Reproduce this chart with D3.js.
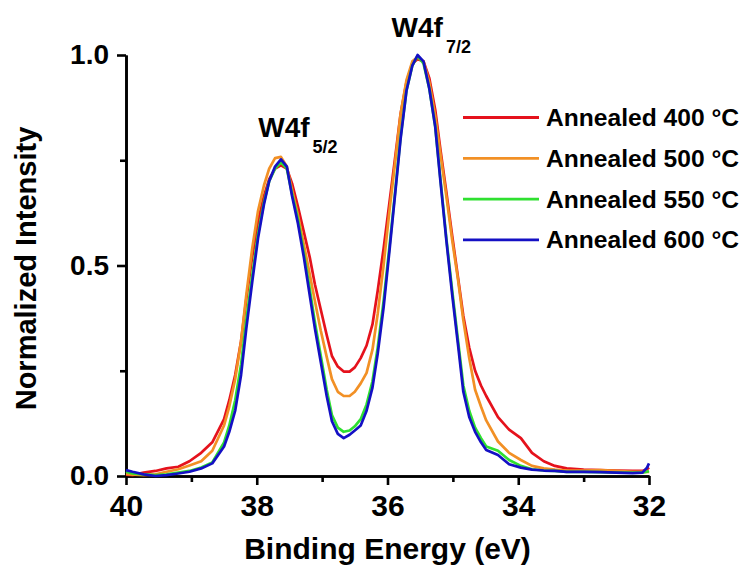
<!DOCTYPE html>
<html><head><meta charset="utf-8">
<script src="https://cdn.jsdelivr.net/npm/d3@7"></script>
<style>html,body{margin:0;padding:0;background:#fff;} svg{display:block;}</style>
</head><body><svg id="chart" width="744" height="567"></svg>
<script>
// ---- data ----
const energy = [40.00, 39.90, 39.73, 39.55, 39.38, 39.20, 39.03, 38.85, 38.68, 38.50,
  38.42, 38.33, 38.24, 38.16, 38.07, 37.98, 37.89, 37.81, 37.72, 37.63,
  37.54, 37.46, 37.37, 37.28, 37.19, 37.11, 37.02, 36.93, 36.85, 36.76,
  36.67, 36.58, 36.50, 36.41, 36.32, 36.23, 36.15, 36.06, 35.97, 35.88,
  35.80, 35.71, 35.62, 35.54, 35.45, 35.36, 35.27, 35.19, 35.10, 35.01,
  34.92, 34.84, 34.75, 34.66, 34.57, 34.49, 34.31, 34.14, 33.96, 33.79,
  33.61, 33.44, 33.26, 33.00, 32.75, 32.50, 32.25, 32.10, 32.03, 32.00];

const annealed400 = [0.003, 0.002, 0.008, 0.012, 0.018, 0.022, 0.035, 0.055, 0.08, 0.135,
  0.18, 0.24, 0.32, 0.42, 0.52, 0.605, 0.665, 0.705, 0.73, 0.738,
  0.73, 0.695, 0.64, 0.58, 0.52, 0.455, 0.395, 0.335, 0.285, 0.26,
  0.248, 0.248, 0.258, 0.28, 0.31, 0.36, 0.44, 0.54, 0.65, 0.76,
  0.86, 0.935, 0.98, 0.99, 0.985, 0.945, 0.87, 0.775, 0.675, 0.57,
  0.47, 0.38, 0.305, 0.25, 0.215, 0.19, 0.14, 0.11, 0.09, 0.055,
  0.035, 0.024, 0.018, 0.015, 0.014, 0.013, 0.012, 0.012, 0.016, 0.02];

const annealed500 = [0.005, 0.003, 0.002, 0.004, 0.01, 0.016, 0.025, 0.035, 0.06, 0.12,
  0.165, 0.23, 0.32, 0.43, 0.54, 0.63, 0.69, 0.73, 0.755, 0.758,
  0.735, 0.68, 0.62, 0.55, 0.48, 0.415, 0.345, 0.283, 0.23, 0.2,
  0.19, 0.19, 0.2, 0.22, 0.245, 0.3, 0.385, 0.5, 0.63, 0.75,
  0.86, 0.94, 0.985, 0.995, 0.985, 0.935, 0.855, 0.765, 0.665, 0.56,
  0.465, 0.37, 0.28, 0.205, 0.165, 0.132, 0.082, 0.055, 0.038, 0.024,
  0.018, 0.015, 0.013, 0.013, 0.014, 0.012, 0.01, 0.01, 0.01, 0.01];

const annealed550 = [0.01, 0.006, 0.004, 0.002, 0.004, 0.008, 0.012, 0.02, 0.032, 0.08,
  0.12, 0.18, 0.265, 0.37, 0.475, 0.575, 0.65, 0.70, 0.73, 0.745,
  0.73, 0.67, 0.61, 0.53, 0.445, 0.365, 0.285, 0.205, 0.145, 0.115,
  0.105, 0.108, 0.118, 0.135, 0.17, 0.225, 0.305, 0.415, 0.545, 0.68,
  0.805, 0.915, 0.975, 0.998, 0.98, 0.92, 0.83, 0.705, 0.565, 0.44,
  0.32, 0.215, 0.155, 0.115, 0.09, 0.07, 0.06, 0.038, 0.024, 0.016,
  0.013, 0.012, 0.01, 0.01, 0.009, 0.008, 0.008, 0.008, 0.01, 0.012];

const annealed600 = [0.014, 0.01, 0.004, 0.0, 0.002, 0.006, 0.01, 0.018, 0.03, 0.07,
  0.105, 0.155, 0.24, 0.35, 0.46, 0.565, 0.645, 0.70, 0.735, 0.752,
  0.735, 0.665, 0.60, 0.52, 0.43, 0.35, 0.27, 0.19, 0.13, 0.1,
  0.09, 0.098, 0.108, 0.12, 0.155, 0.21, 0.29, 0.40, 0.535, 0.675,
  0.80, 0.915, 0.975, 1.0, 0.985, 0.92, 0.83, 0.70, 0.56, 0.43,
  0.31, 0.2, 0.14, 0.105, 0.08, 0.062, 0.05, 0.028, 0.02, 0.015,
  0.013, 0.012, 0.01, 0.01, 0.009, 0.008, 0.007, 0.008, 0.02, 0.03];

const seriesNames = ["Annealed 400 °C", "Annealed 500 °C", "Annealed 550 °C", "Annealed 600 °C"];
const xTickValues = [40, 38, 36, 34, 32];
const xMinorValues = [39, 37, 35, 33];
const yTickValues = [0.0, 0.5, 1.0];
const yMinorValues = [0.25, 0.75];
const peakLabels = [
  {main: "W4f", sub: "5/2", e: 37.37, i: 0.805},
  {main: "W4f", sub: "7/2", e: 35.33, i: 1.043}
];

// ---- styles ----
const colors = ["#e5121c", "#f29025", "#2fe030", "#1410c4"];
const FONT = '"Liberation Sans", Arial, Helvetica, sans-serif';

const svg = d3.select("#chart");
const x = d3.scaleLinear().domain([40, 32]).range([126, 649]);
const y = d3.scaleLinear().domain([0, 1]).range([476, 55]);

// axes
function styleAxis(g) {
  g.select(".domain").attr("stroke", "#000").attr("stroke-width", 2.6);
  g.selectAll(".tick line").attr("stroke", "#000").attr("stroke-width", 2.6);
}
const gx = svg.append("g").attr("transform", `translate(0,${y(0)})`)
  .call(d3.axisBottom(x).tickValues(xTickValues).tickSize(9).tickSizeOuter(0).tickPadding(10).tickFormat(d3.format("d")));
styleAxis(gx);
gx.selectAll(".tick text").attr("font-family", FONT).attr("font-weight", "bold").attr("font-size", 30).attr("fill", "#000");
const gxm = svg.append("g").attr("transform", `translate(0,${y(0)})`)
  .call(d3.axisBottom(x).tickValues(xMinorValues).tickSize(6).tickSizeOuter(0).tickFormat(""));
styleAxis(gxm);

const gy = svg.append("g").attr("transform", `translate(${x(40)},0)`)
  .call(d3.axisLeft(y).tickValues(yTickValues).tickSize(9).tickSizeOuter(0).tickPadding(8).tickFormat(d3.format(".1f")));
styleAxis(gy);
gy.selectAll(".tick text").attr("font-family", FONT).attr("font-weight", "bold").attr("font-size", 28).attr("fill", "#000");
const gym = svg.append("g").attr("transform", `translate(${x(40)},0)`)
  .call(d3.axisLeft(y).tickValues(yMinorValues).tickSize(6).tickSizeOuter(0).tickFormat(""));
styleAxis(gym);

// axis titles
svg.append("text").attr("x", (x(40) + x(32)) / 2).attr("y", 559)
  .attr("text-anchor", "middle").attr("font-family", FONT).attr("font-weight", "bold")
  .attr("font-size", 30).text("Binding Energy (eV)");
svg.append("text").attr("transform", `translate(36,${(y(0) + y(1)) / 2 + 3}) rotate(-90)`)
  .attr("text-anchor", "middle").attr("font-family", FONT).attr("font-weight", "bold")
  .attr("font-size", 29).text("Normalized Intensity");

// curves
const allSeries = [annealed400, annealed500, annealed550, annealed600];
const line = d3.line().x((d, k) => x(energy[k])).y(d => y(d));
allSeries.forEach((vals, s) => {
  svg.append("path").datum(vals).attr("d", line)
    .attr("fill", "none").attr("stroke", colors[s]).attr("stroke-width", 2.7)
    .attr("stroke-linejoin", "round");
});

// peak labels
peakLabels.forEach(p => {
  const t = svg.append("text").attr("x", x(p.e)).attr("y", y(p.i))
    .attr("text-anchor", "middle").attr("font-family", FONT).attr("font-weight", "bold").attr("font-size", 28);
  t.append("tspan").text(p.main);
  t.append("tspan").attr("font-size", 18).attr("dy", 16).attr("dx", 3).text(p.sub);
});

// legend
const leg = svg.append("g");
seriesNames.forEach((name, s) => {
  const ly = 117.5 + s * 40.8;
  leg.append("line").attr("x1", 463).attr("x2", 539).attr("y1", ly).attr("y2", ly)
    .attr("stroke", colors[s]).attr("stroke-width", 2.8);
  leg.append("text").attr("x", 546).attr("y", ly + 8.5).attr("font-family", FONT)
    .attr("font-weight", "bold").attr("font-size", 24.6).text(name);
});
</script>
</body></html>
